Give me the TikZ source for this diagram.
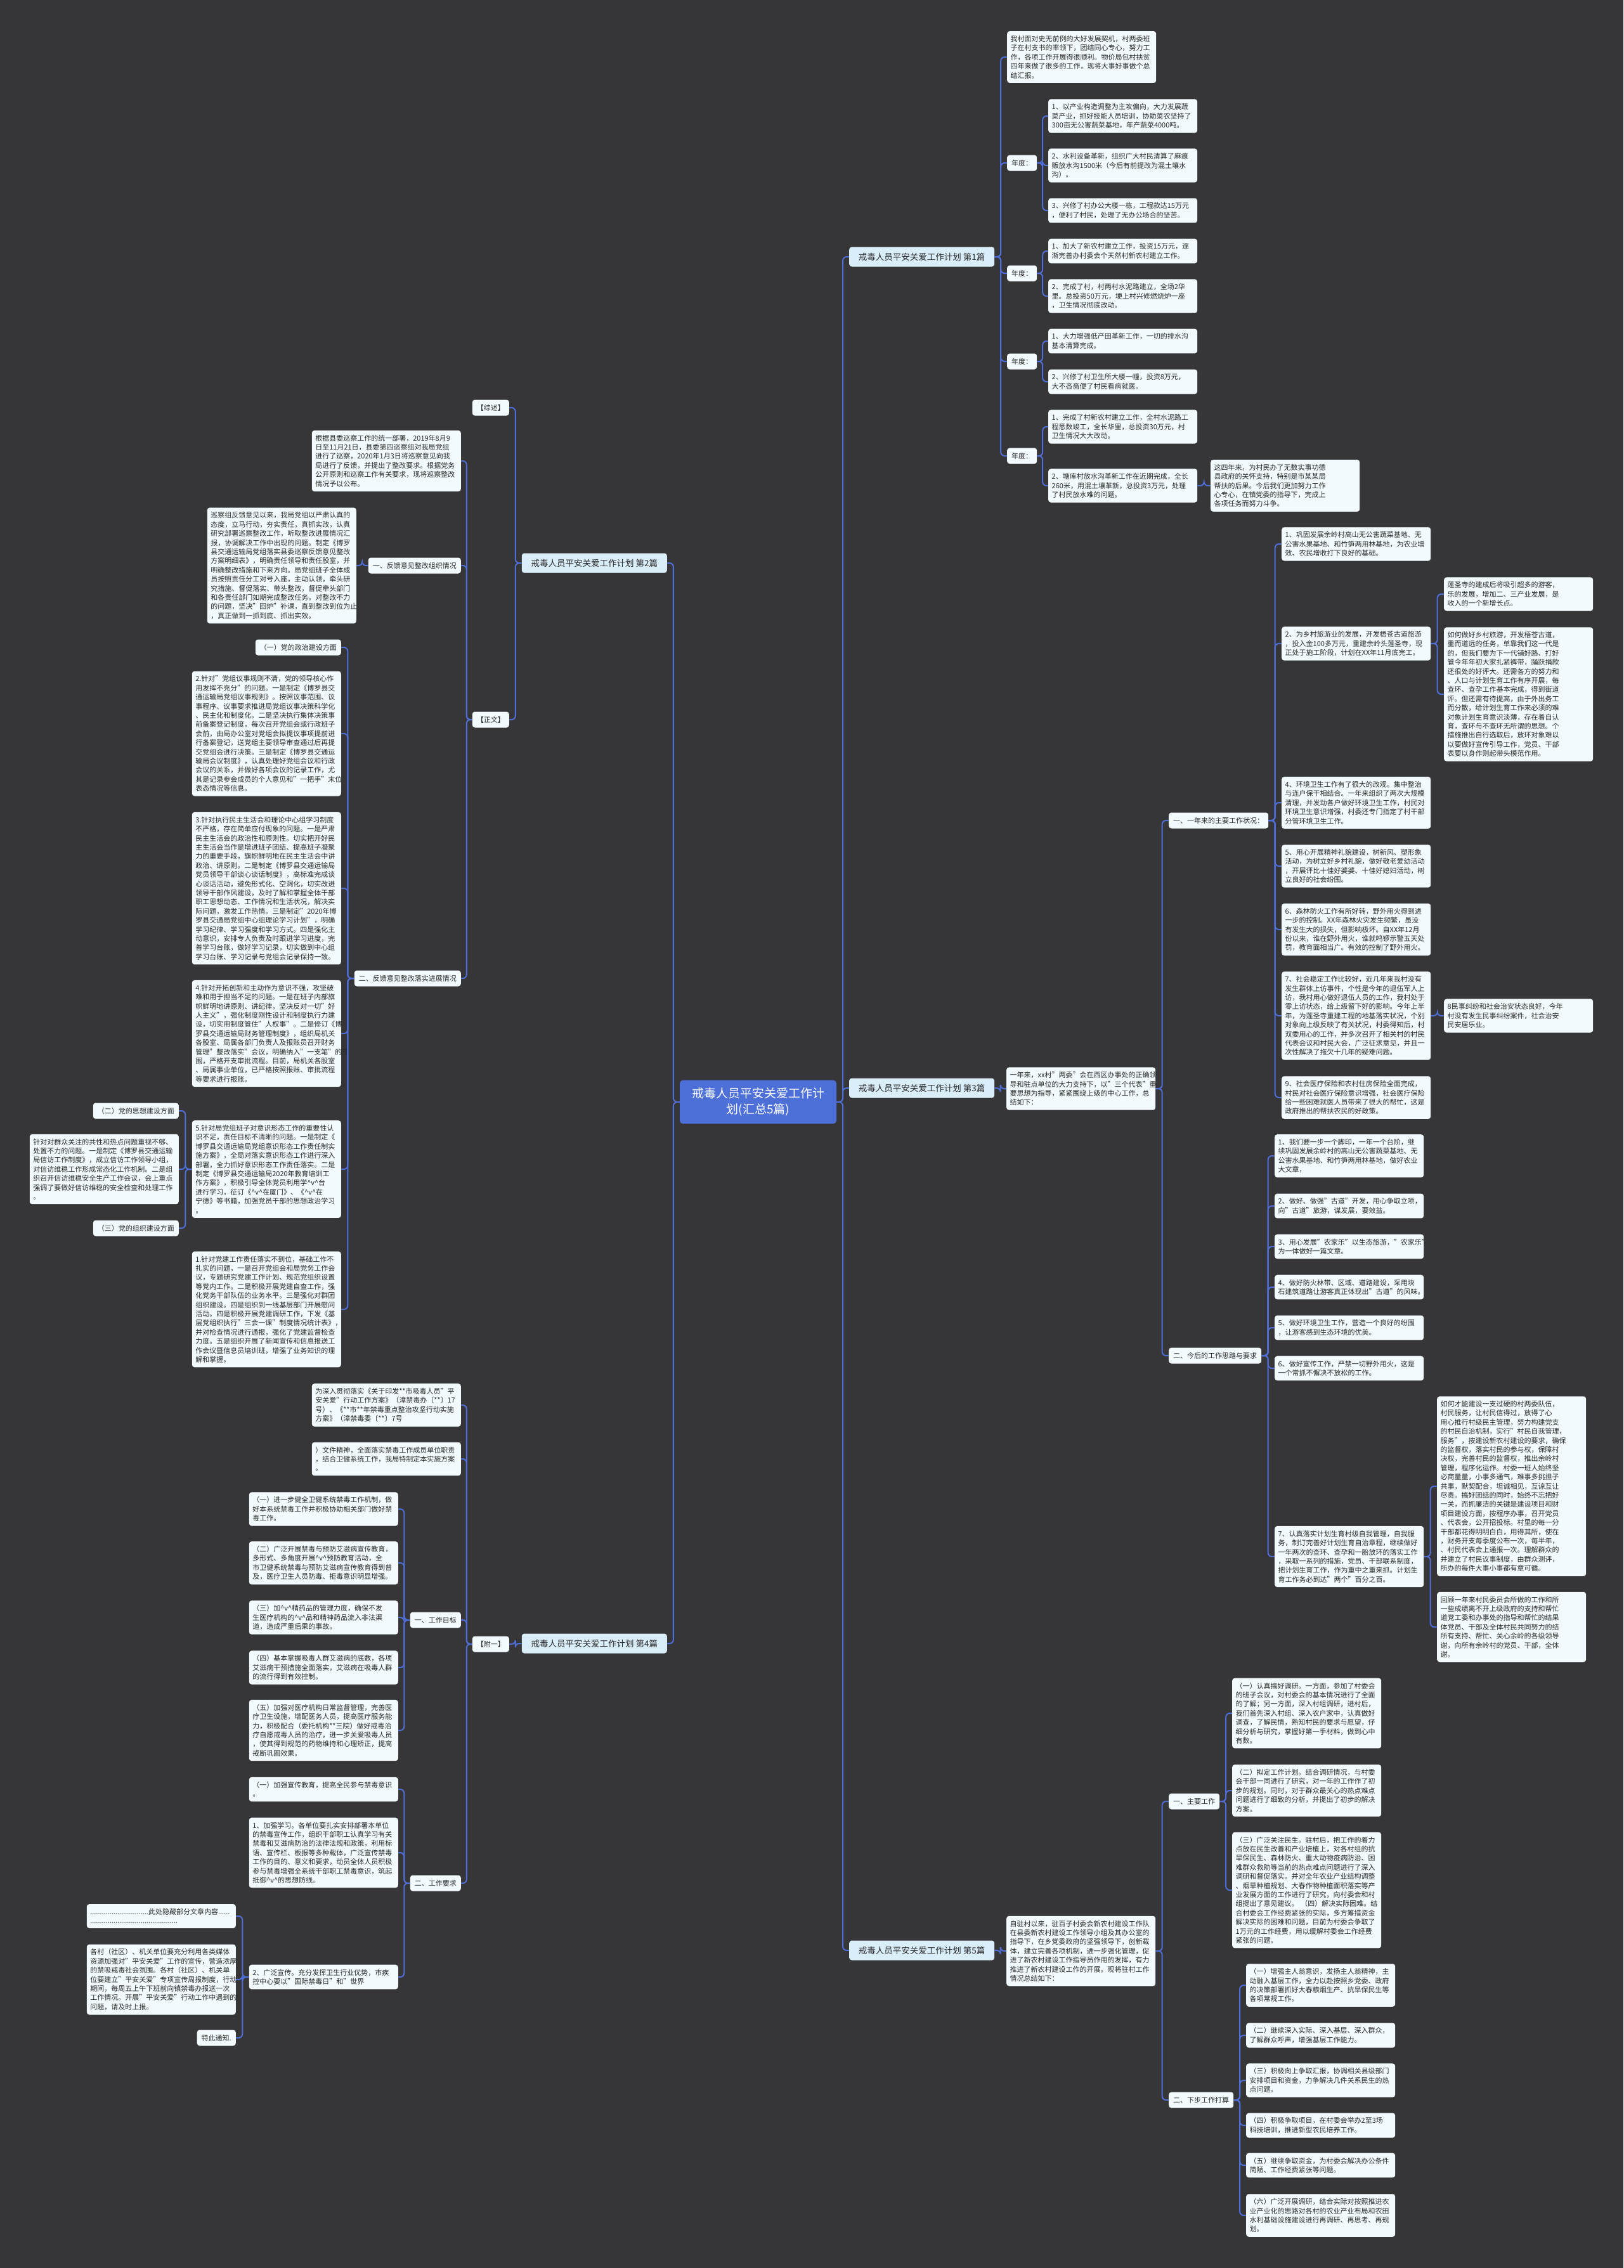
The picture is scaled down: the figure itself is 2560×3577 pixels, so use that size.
\documentclass[tikz,border=0pt]{standalone}
\usepackage{fontspec}
\setmainfont{Noto Sans CJK SC}
\usetikzlibrary{calc}

\definecolor{bgcol}{RGB}{54,53,56}
\definecolor{linecol}{RGB}{80,110,215}
\definecolor{leafcol}{RGB}{242,250,253}
\definecolor{topiccol}{RGB}{218,238,250}
\definecolor{rootcol}{RGB}{76,111,216}
\definecolor{inkcol}{RGB}{40,40,40}

\newcommand\hv{\textasciicircum v\textasciicircum}
% elbow connectors, right and left of the root
\newcommand\linkr[2]{\draw[branchline] let \p1=(#1.east), \p2=(#2.west) in (\p1) -- ({(\x1+\x2)/2},\y1) |- (\p2);}
\newcommand\linkl[2]{\draw[branchline] let \p1=(#1.west), \p2=(#2.east) in (\p1) -- ({(\x1+\x2)/2},\y1) |- (\p2);}

\tikzset{
  leaf/.style={fill=leafcol, text=inkcol, rounded corners=4pt, text width=224pt, inner xsep=5.5pt, inner ysep=7pt, align=left, font=\fontsize{11}{14.4}\selectfont},
  labelbox/.style={fill=leafcol, text=inkcol, rounded corners=4pt, inner xsep=7pt, inner ysep=7pt, minimum height=25pt, font=\fontsize{11}{14.4}\selectfont},
  topic/.style={fill=topiccol, text=inkcol, rounded corners=4pt, minimum width=229pt, minimum height=31pt, font=\fontsize{13.5}{16}\selectfont},
  root/.style={fill=rootcol, text=white, rounded corners=5pt, inner xsep=19pt, inner ysep=12pt, align=center, font=\fontsize{19}{25}\selectfont},
  branchline/.style={draw=linecol, line width=2pt, rounded corners=6pt},
}

\begin{document}
\begin{tikzpicture}[x=1pt,y=-1pt]
\fill[bgcol] (0,0) rectangle (2560,3577);
\useasboundingbox (0,0) rectangle (2560,3577);

\node[root] (root) at (1195.5,1738) {戒毒人员平安关爱工作计\\划(汇总5篇)};

\node[topic,anchor=west] (t1) at (1339,405) {戒毒人员平安关爱工作计划 第1篇};
\node[topic,anchor=west] (t3) at (1339,1716) {戒毒人员平安关爱工作计划 第3篇};
\node[topic,anchor=west] (t5) at (1339,3076) {戒毒人员平安关爱工作计划 第5篇};
\node[topic,anchor=east] (t2) at (1052,888) {戒毒人员平安关爱工作计划 第2篇};
\node[topic,anchor=east] (t4) at (1052,2592) {戒毒人员平安关爱工作计划 第4篇};

% part 1
\node[leaf,anchor=west] (a1) at (1588,90) {我村面对史无前例的大好发展契机，村两委班\\子在村支书的率领下，团结同心专心，努力工\\作，各项工作开展得很顺利。物价局包村扶贫\\四年来做了很多的工作，现将大事好事做个总\\结汇报。};
\node[labelbox,anchor=west] (y1) at (1588,257) {年度：};
\node[leaf,anchor=west] (y1a) at (1653,183) {1、以产业构造调整为主攻偏向，大力发展蔬\\菜产业，抓好技能人员培训，协助菜农坚持了\\300亩无公害蔬菜基地，年产蔬菜4000吨。};
\node[leaf,anchor=west] (y1b) at (1653,261) {2、水利设备革新，组织广大村民清算了麻痕\\贩放水沟1500米（今后有前提改为混土壤水\\沟）。};
\node[leaf,anchor=west] (y1c) at (1653,332) {3、兴修了村办公大楼一栋，工程款达15万元\\，便利了村民，处理了无办公场合的坚苦。};
\node[labelbox,anchor=west] (y2) at (1588,431) {年度：};
\node[leaf,anchor=west] (y2a) at (1653,396) {1、加大了新农村建立工作，投资15万元，逐\\渐完善办村委会个天然村新农村建立工作。};
\node[leaf,anchor=west] (y2b) at (1653,467) {2、完成了村，村两村水泥路建立，全场2华\\里。总投资50万元，埂上村兴修燃烧炉一座\\，卫生情况彻底改动。};
\node[labelbox,anchor=west] (y3) at (1588,570) {年度：};
\node[leaf,anchor=west] (y3a) at (1653,538) {1、大力增强低产田革新工作，一切的排水沟\\基本清算完成。};
\node[leaf,anchor=west] (y3b) at (1653,602) {2、兴修了村卫生所大楼一幢，投资8万元，\\大不吝啬便了村民看病就医。};
\node[labelbox,anchor=west] (y4) at (1588,719) {年度：};
\node[leaf,anchor=west] (y4a) at (1653,673) {1、完成了村新农村建立工作，全村水泥路工\\程悉数竣工，全长华里，总投资30万元，村\\卫生情况大大改动。};
\node[leaf,anchor=west] (y4b) at (1653,766) {2、塘库村放水沟革新工作在近期完成，全长\\260米，用混土壤革新，总投资3万元，处理\\了村民放水难的问题。};
\node[leaf,anchor=west] (y4x) at (1909,766) {这四年来，为村民办了无数实事功德\\县政府的关怀支持，特别是市某某局\\帮扶的后果。今后我们更加努力工作\\心专心，在镇党委的指导下，完成上\\各项任务而努力斗争。};

% part 3
\node[leaf,anchor=west] (b0) at (1587,1717) {一年来，xx村"两委"会在西区办事处的正确领\\导和驻点单位的大力支持下，以"三个代表"重\\要思想为指导，紧紧围绕上级的中心工作，总\\结如下：};
\node[labelbox,anchor=west] (b1) at (1843,1294) {一、一年来的主要工作状况：};
\node[labelbox,anchor=west] (b2) at (1843,2138) {二、今后的工作思路与要求};
\node[leaf,anchor=west] (c1) at (2021,858) {1、巩固发展余岭村高山无公害蔬菜基地、无\\公害水果基地、和竹笋两用林基地，为农业增\\效、农民增收打下良好的基础。};
\node[leaf,anchor=west] (c2) at (2021,1015) {2、为乡村旅游业的发展，开发梧苍古道旅游\\，投入金100多万元，重建余岭头莲圣寺，现\\正处于施工阶段，计划在XX年11月底完工。};
\node[leaf,anchor=west] (c2a) at (2277,937) {莲圣寺的建成后将吸引超多的游客，\\乐的发展，增加二、三产业发展，是\\收入的一个新增长点。};
\node[leaf,anchor=west] (c2b) at (2277,1095) {如何做好乡村旅游，开发梧苍古道，\\重而道远的任务，单靠我们这一代是\\的，但我们要为下一代铺好路、打好\\管今年年初大家扎紧裤带，踊跃捐款\\还很处的好评大。还需各方的努力和\\、人口与计划生育工作有序开展，每\\查环、查孕工作基本完成，得到街道\\评。但还需有待提高，由于外出务工\\而分散，给计划生育工作来必须的难\\对象计划生育意识淡薄，存在着自认\\育，查环与不查环无所谓的思想。个\\措施推出自行选取后，放环对象难以\\以要做好宣传引导工作，党员、干部\\表要以身作则起带头模范作用。};
\node[leaf,anchor=west] (c4) at (2021,1266) {4、环境卫生工作有了很大的改观。集中整治\\与连户保干相结合。一年来组织了两次大规模\\清理，并发动各户做好环境卫生工作，村民对\\环境卫生意识增强，村委还专门指定了村干部\\分管环境卫生工作。};
\node[leaf,anchor=west] (c5) at (2021,1366) {5、用心开展精神礼貌建设，树新风、塑形象\\活动，为树立好乡村礼貌，做好敬老爱幼活动\\，开展评比十佳好婆婆、十佳好媳妇活动，树\\立良好的社会纷围。};
\node[leaf,anchor=west] (c6) at (2021,1466) {6、森林防火工作有所好转，野外用火得到进\\一步的控制。XX年森林火灾发生频繁，虽没\\有发生大的损失，但影响极坏。自XX年12月\\份以来，谁在野外用火，谁就鸣锣示警五天处\\罚，教育面相当广。有效的控制了野外用火。};
\node[leaf,anchor=west] (c7) at (2021,1602) {7、社会稳定工作比较好，近几年来我村没有\\发生群体上访事件，个性是今年的退伍军人上\\访，我村用心做好退伍人员的工作，我村处于\\零上访状态，给上级留下好的影响。今年上半\\年，为莲圣寺重建工程的地基落实状况，个别\\对象向上级反映了有关状况，村委得知后，村\\双委用心的工作，并多次召开了相关村的村民\\代表会议和村民大会，广泛征求意见，并且一\\次性解决了拖欠十几年的疑难问题。};
\node[leaf,anchor=west] (c7a) at (2277,1602) {8民事纠纷和社会治安状态良好，今年\\村没有发生民事纠纷案件，社会治安\\民安居乐业。};
\node[leaf,anchor=west] (c9) at (2021,1731) {9、社会医疗保险和农村住房保险全面完成，\\村民对社会医疗保险意识增强，社会医疗保险\\给一些困难就医人员带来了很大的帮忙，这是\\政府推出的帮扶农民的好政策。};
\node[leaf,anchor=west] (d1) at (2010,1823) {1、我们要一步一个脚印，一年一个台阶，继\\续巩固发展余岭村的高山无公害蔬菜基地、无\\公害水果基地、和竹笋两用林基地，做好农业\\大文章，};
\node[leaf,anchor=west] (d2) at (2010,1902) {2、做好、做强"古道"开发，用心争取立项，\\向"古道"旅游，谋发展，要效益。};
\node[leaf,anchor=west] (d3) at (2010,1966) {3、用心发展"农家乐"以生态旅游，"农家乐"\\为一体做好一篇文章。};
\node[leaf,anchor=west] (d4) at (2010,2030) {4、做好防火林带、区域、道路建设，采用块\\石建筑道路让游客真正体现出"古道"的风味。};
\node[leaf,anchor=west] (d5) at (2010,2094) {5、做好环境卫生工作，营造一个良好的纷围\\，让游客感到生态环境的优美。};
\node[leaf,anchor=west] (d6) at (2010,2158) {6、做好宣传工作，严禁一切野外用火，这是\\一个常抓不懈决不放松的工作。};
\node[leaf,anchor=west] (d7) at (2010,2455) {7、认真落实计划生育村级自我管理，自我服\\务，制订完善好计划生育自治章程，继续做好\\一年两次的查环、查孕和一胎放环的落实工作\\，采取一系列的措施，党员、干部联系制度，\\把计划生育工作，作为重中之重来抓。计划生\\育工作务必到达"两个"百分之百。};
\node[leaf,anchor=west] (d7a) at (2266,2344) {如何才能建设一支过硬的村两委队伍，\\村民服务，让村民信得过，放得了心\\用心推行村级民主管理，努力构建党支\\的村民自治机制，实行"村民自我管理，\\服务"，按建设新农村建设的要求，确保\\的监督权，落实村民的参与权，保障村\\决权，完善村民的监督权，推出余岭村\\管理，程序化运作。村委一班人始终坚\\必商量量，小事多通气，难事多挑担子\\共事，默契配合，坦诚相见，互谅互让\\尽责。搞好团结的同时，始终不忘把好\\一关，而抓廉洁的关键是建设项目和财\\项目建设方面，按程序办事，召开党员\\、代表会，公开招投标。村里的每一分\\干部都花得明明白白，用得其所，使在\\，财务开支每季度公布一次，每半年，\\、村民代表会上通报一次。理解群众的\\并建立了村民议事制度，由群众测评，\\所办的每件大事小事都有章可循。};
\node[leaf,anchor=west] (d7b) at (2266,2566) {回顾一年来村民委员会所做的工作和所\\一些成绩离不开上级政府的支持和帮忙\\道党工委和办事处的指导和帮忙的结果\\体党员、干部及全体村民共同努力的结\\所有支持、帮忙、关心余岭的各级领导\\谢，向所有余岭村的党员、干部，全体\\谢。};

% part 5
\node[leaf,anchor=west] (e0) at (1587,3077) {自驻村以来，驻百子村委会新农村建设工作队\\在县委新农村建设工作领导小组及其办公室的\\指导下，在乡党委政府的坚强领导下，创新载\\体，建立完善各项机制，进一步强化管理，促\\进了新农村建设工作指导员作用的发挥，有力\\推进了新农村建设工作的开展。现将驻村工作\\情况总结如下：};
\node[labelbox,anchor=west] (e) at (1843,2841) {一、主要工作};
\node[labelbox,anchor=west] (f) at (1843,3312) {二、下步工作打算};
\node[leaf,anchor=west] (e1) at (1943,2702) {（一）认真搞好调研。一方面，参加了村委会\\的班子会议，对村委会的基本情况进行了全面\\的了解；另一方面，深入村组调研，进村后，\\我们首先深入村组、深入农户家中，认真做好\\调查，了解民情，熟知村民的要求与愿望，仔\\细分析与研究，掌握好第一手材料，做到心中\\有数。};
\node[leaf,anchor=west] (e2) at (1943,2824) {（二）拟定工作计划。结合调研情况，与村委\\会干部一同进行了研究，对一年的工作作了初\\步的规划。同时，对于群众最关心的热点难点\\问题进行了细致的分析，并提出了初步的解决\\方案。};
\node[leaf,anchor=west] (e3) at (1943,2981) {（三）广泛关注民生。驻村后，把工作的着力\\点放在民生改善和产业培植上，对各村组的抗\\旱保民生、森林防火、重大动物疫病防治、困\\难群众救助等当前的热点难点问题进行了深入\\调研和督促落实。并对全年农业产业结构调整\\、烟草种植规划、大春作物种植面积落实等产\\业发展方面的工作进行了研究，向村委会和村\\组提出了意见建议。 （四）解决实际困难。结\\合村委会工作经费紧张的实际，多方筹措资金\\解决实际的困难和问题，目前为村委会争取了\\1万元的工作经费，用以缓解村委会工作经费\\紧张的问题。};
\node[leaf,anchor=west] (f1) at (1965,3131) {（一）增强主人翁意识，发扬主人翁精神，主\\动融入基层工作，全力以赴按照乡党委、政府\\的决策部署抓好大春粮烟生产、抗旱保民生等\\各项常规工作。};
\node[leaf,anchor=west] (f2) at (1965,3210) {（二）继续深入实际、深入基层、深入群众，\\了解群众呼声，增强基层工作能力。};
\node[leaf,anchor=west] (f3) at (1965,3281) {（三）积极向上争取汇报，协调相关县级部门\\安排项目和资金，力争解决几件关系民生的热\\点问题。};
\node[leaf,anchor=west] (f4) at (1965,3352) {（四）积极争取项目，在村委会举办2至3场\\科技培训，推进新型农民培养工作。};
\node[leaf,anchor=west] (f5) at (1965,3415) {（五）继续争取资金，为村委会解决办公条件\\简陋、工作经费紧张等问题。};
\node[leaf,anchor=west] (f6) at (1965,3494) {（六）广泛开展调研，结合实际对按照推进农\\业产业化的思路对各村的农业产业布局和农田\\水利基础设施建设进行再调研、再思考、再规\\划。};

% part 2
\node[labelbox,anchor=east] (zs) at (803,643) {【综述】};
\node[labelbox,anchor=east] (zw) at (803,1135) {【正文】};
\node[leaf,anchor=east] (p1) at (727,727) {根据县委巡察工作的统一部署，2019年8月9\\日至11月21日，县委第四巡察组对我局党组\\进行了巡察，2020年1月3日将巡察意见向我\\局进行了反馈，并提出了整改要求。根据党务\\公开原则和巡察工作有关要求，现将巡察整改\\情况予以公布。};
\node[labelbox,anchor=east] (p2) at (727,892) {一、反馈意见整改组织情况};
\node[leaf,anchor=east] (p2a) at (562,892) {巡察组反馈意见以来，我局党组以严肃认真的\\态度，立马行动，夯实责任，真抓实改，认真\\研究部署巡察整改工作，听取整改进展情况汇\\报，协调解决工作中出现的问题。制定《博罗\\县交通运输局党组落实县委巡察反馈意见整改\\方案明细表》，明确责任领导和责任股室，并\\明确整改措施和下来方向。局党组班子全体成\\员按照责任分工对号入座，主动认领，牵头研\\究措施、督促落实、带头整改，督促牵头部门\\和各责任部门如期完成整改任务。对整改不力\\的问题，坚决"回炉"补课，直到整改到位为止\\，真正做到一抓到底、抓出实效。};
\node[labelbox,anchor=east] (p3) at (727,1543) {二、反馈意见整改落实进展情况};
\node[labelbox,anchor=east] (g1) at (538,1021) {（一）党的政治建设方面};
\node[leaf,anchor=east] (g2) at (538,1157) {2.针对"党组议事规则不清，党的领导核心作\\用发挥不充分"的问题。一是制定《博罗县交\\通运输局党组议事规则》。按照议事范围、议\\事程序、议事要求推进局党组议事决策科学化\\、民主化和制度化。二是坚决执行集体决策事\\前备案登记制度，每次召开党组会或行政班子\\会前，由局办公室对党组会拟提议事项提前进\\行备案登记，送党组主要领导审查通过后再提\\交党组会进行决策。三是制定《博罗县交通运\\输局会议制度》，认真处理好党组会议和行政\\会议的关系，并做好各项会议的记录工作，尤\\其是记录参会成员的个人意见和"一把手"末位\\表态情况等信息。};
\node[leaf,anchor=east] (g3) at (538,1401) {3.针对执行民主生活会和理论中心组学习制度\\不严格，存在简单应付现象的问题。一是严肃\\民主生活会的政治性和原则性。切实把开好民\\主生活会当作是增进班子团结、提高班子凝聚\\力的重要手段，旗帜鲜明地在民主生活会中讲\\政治、讲原则。二是制定《博罗县交通运输局\\党员领导干部谈心谈话制度》，高标准完成谈\\心谈话活动，避免形式化、空洞化，切实改进\\领导干部作风建设，及时了解和掌握全体干部\\职工思想动态、工作情况和生活状况，解决实\\际问题，激发工作热情。三是制定"2020年博\\罗县交通局党组中心组理论学习计划"，明确\\学习纪律、学习强度和学习方式。四是强化主\\动意识，安排专人负责及时跟进学习进度，完\\善学习台账，做好学习记录，切实做到中心组\\学习台账、学习记录与党组会记录保持一致。};
\node[leaf,anchor=east] (g4) at (538,1630) {4.针对开拓创新和主动作为意识不强，攻坚破\\难和用于担当不足的问题。一是在班子内部旗\\帜鲜明地讲原则、讲纪律，坚决反对一切"好\\人主义"，强化制度刚性设计和制度执行力建\\设，切实用制度管住"人权事"。二是修订《博\\罗县交通运输局财务管理制度》，组织局机关\\各股室、局属各部门负责人及报账员召开财务\\管理"整改落实"会议，明确纳入"一支笔"的范\\围，严格开支审批流程。目前，局机关各股室\\、局属事业单位，已严格按照报账、审批流程\\等要求进行报账。};
\node[leaf,anchor=east] (g5) at (538,1844) {5.针对局党组班子对意识形态工作的重要性认\\识不足，责任目标不清晰的问题。一是制定《\\博罗县交通运输局党组意识形态工作责任制实\\施方案》，全局对落实意识形态工作进行深入\\部署，全力抓好意识形态工作责任落实。二是\\制定《博罗县交通运输局2020年教育培训工\\作方案》，积极引导全体党员利用学\hv{}台\\进行学习，征订《\hv{}在厦门》、《\hv{}在\\宁德》等书籍，加强党员干部的思想政治学习\\。};
\node[labelbox,anchor=east] (g5a) at (282,1752) {（二）党的思想建设方面};
\node[leaf,anchor=east] (g5b) at (282,1844) {针对对群众关注的共性和热点问题重视不够、\\处置不力的问题。一是制定《博罗县交通运输\\局信访工作制度》，成立信访工作领导小组，\\对信访维稳工作形成常态化工作机制。二是组\\织召开信访维稳安全生产工作会议，会上重点\\强调了要做好信访维稳的安全检查和处理工作\\。};
\node[labelbox,anchor=east] (g5c) at (282,1937) {（三）党的组织建设方面};
\node[leaf,anchor=east] (g6) at (538,2065) {1.针对党建工作责任落实不到位，基础工作不\\扎实的问题，一是召开党组会和局党务工作会\\议，专题研究党建工作计划、规范党组织设置\\等党内工作。二是积极开展党建自查工作，强\\化党务干部队伍的业务水平。三是强化对群团\\组织建设。四是组织到一线基层部门开展慰问\\活动。四是积极开展党建调研工作，下发《基\\层党组织执行"三会一课"制度情况统计表》，\\并对检查情况进行通报，强化了党建监督检查\\力度。五是组织开展了新闻宣传和信息报送工\\作会议暨信息员培训班，增强了业务知识的理\\解和掌握。};

% part 4
\node[labelbox,anchor=east] (fy) at (803,2593) {【附一】};
\node[leaf,anchor=east] (h1) at (727,2216) {为深入贯彻落实《关于印发**市吸毒人员"平\\安关爱"行动工作方案》（漳禁毒办〔**〕17\\号）、《**市**年禁毒重点整治攻坚行动实施\\方案》（漳禁毒委〔**〕7号};
\node[leaf,anchor=east] (h2) at (727,2301) {）文件精神，全面落实禁毒工作成员单位职责\\，结合卫健系统工作，我局特制定本实施方案\\。};
\node[labelbox,anchor=east] (h3) at (727,2555) {一、工作目标};
\node[leaf,anchor=east] (i1) at (628,2380) {（一）进一步健全卫健系统禁毒工作机制，做\\好本系统禁毒工作并积极协助相关部门做好禁\\毒工作。};
\node[leaf,anchor=east] (i2) at (628,2465) {（二）广泛开展禁毒与预防艾滋病宣传教育，\\多形式、多角度开展\hv{}预防教育活动，全\\市卫健系统禁毒与预防艾滋病宣传教育得到普\\及，医疗卫生人员防毒、拒毒意识明显增强。};
\node[leaf,anchor=east] (i3) at (628,2551) {（三）加\hv{}精药品的管理力度，确保不发\\生医疗机构的\hv{}品和精神药品流入非法渠\\道，造成严重后果的事故。};
\node[leaf,anchor=east] (i4) at (628,2630) {（四）基本掌握吸毒人群艾滋病的底数，各项\\艾滋病干预措施全面落实，艾滋病在吸毒人群\\的流行得到有效控制。};
\node[leaf,anchor=east] (i5) at (628,2729) {（五）加强对医疗机构日常监督管理，完善医\\疗卫生设施，增配医务人员，提高医疗服务能\\力，积极配合（委托机构**三院）做好戒毒治\\疗自愿戒毒人员的治疗，进一步关爱吸毒人员\\，使其得到规范的药物维持和心理矫正，提高\\戒断巩固效果。};
\node[labelbox,anchor=east] (h4) at (727,2970) {二、工作要求};
\node[leaf,anchor=east] (j1) at (628,2822) {（一）加强宣传教育，提高全民参与禁毒意识\\。};
\node[leaf,anchor=east] (j2) at (628,2922) {1、加强学习。各单位要扎实安排部署本单位\\的禁毒宣传工作，组织干部职工认真学习有关\\禁毒和艾滋病防治的法律法规和政策，利用标\\语、宣传栏、板报等多种载体，广泛宣传禁毒\\工作的目的、意义和要求，动员全体人员积极\\参与禁毒增强全系统干部职工禁毒意识，筑起\\抵御\hv{}的思想防线。};
\node[leaf,anchor=east] (j3) at (628,3118) {2、广泛宣传。充分发挥卫生行业优势，市疾\\控中心要以"国际禁毒日"和"世界};
\node[leaf,anchor=east] (k1) at (372,3022) {..............................此处隐藏部分文章内容......\\.............................................};
\node[leaf,anchor=east] (k2) at (372,3122) {各村（社区）、机关单位要充分利用各类媒体\\资源加强对"平安关爱"工作的宣传，营造浓厚\\的禁吸戒毒社会氛围。各村（社区）、机关单\\位要建立"平安关爱"专项宣传周报制度，行动\\期间，每周五上午下班前向镇禁毒办报送一次\\工作情况。开展"平安关爱"行动工作中遇到的\\问题，请及时上报。};
\node[labelbox,anchor=east] (k3) at (372,3214) {特此通知.};

% connectors
\foreach \k in {t1,t3,t5} {\linkr{root}{\k}}
\foreach \k in {t2,t4} {\linkl{root}{\k}}
\foreach \k in {a1,y1,y2,y3,y4} {\linkr{t1}{\k}}
\foreach \k in {y1a,y1b,y1c} {\linkr{y1}{\k}}
\foreach \k in {y2a,y2b} {\linkr{y2}{\k}}
\foreach \k in {y3a,y3b} {\linkr{y3}{\k}}
\foreach \k in {y4a,y4b} {\linkr{y4}{\k}}
\linkr{y4b}{y4x}
\linkr{t3}{b0}
\foreach \k in {b1,b2} {\linkr{b0}{\k}}
\foreach \k in {c1,c2,c4,c5,c6,c7,c9} {\linkr{b1}{\k}}
\foreach \k in {c2a,c2b} {\linkr{c2}{\k}}
\linkr{c7}{c7a}
\foreach \k in {d1,d2,d3,d4,d5,d6,d7} {\linkr{b2}{\k}}
\foreach \k in {d7a,d7b} {\linkr{d7}{\k}}
\linkr{t5}{e0}
\foreach \k in {e,f} {\linkr{e0}{\k}}
\foreach \k in {e1,e2,e3} {\linkr{e}{\k}}
\foreach \k in {f1,f2,f3,f4,f5,f6} {\linkr{f}{\k}}
\foreach \k in {zs,zw} {\linkl{t2}{\k}}
\foreach \k in {p1,p2,p3} {\linkl{zw}{\k}}
\linkl{p2}{p2a}
\foreach \k in {g1,g2,g3,g4,g5,g6} {\linkl{p3}{\k}}
\foreach \k in {g5a,g5b,g5c} {\linkl{g5}{\k}}
\linkl{t4}{fy}
\foreach \k in {h1,h2,h3,h4} {\linkl{fy}{\k}}
\foreach \k in {i1,i2,i3,i4,i5} {\linkl{h3}{\k}}
\foreach \k in {j1,j2,j3} {\linkl{h4}{\k}}
\foreach \k in {k1,k2,k3} {\linkl{j3}{\k}}
\end{tikzpicture}
\end{document}
